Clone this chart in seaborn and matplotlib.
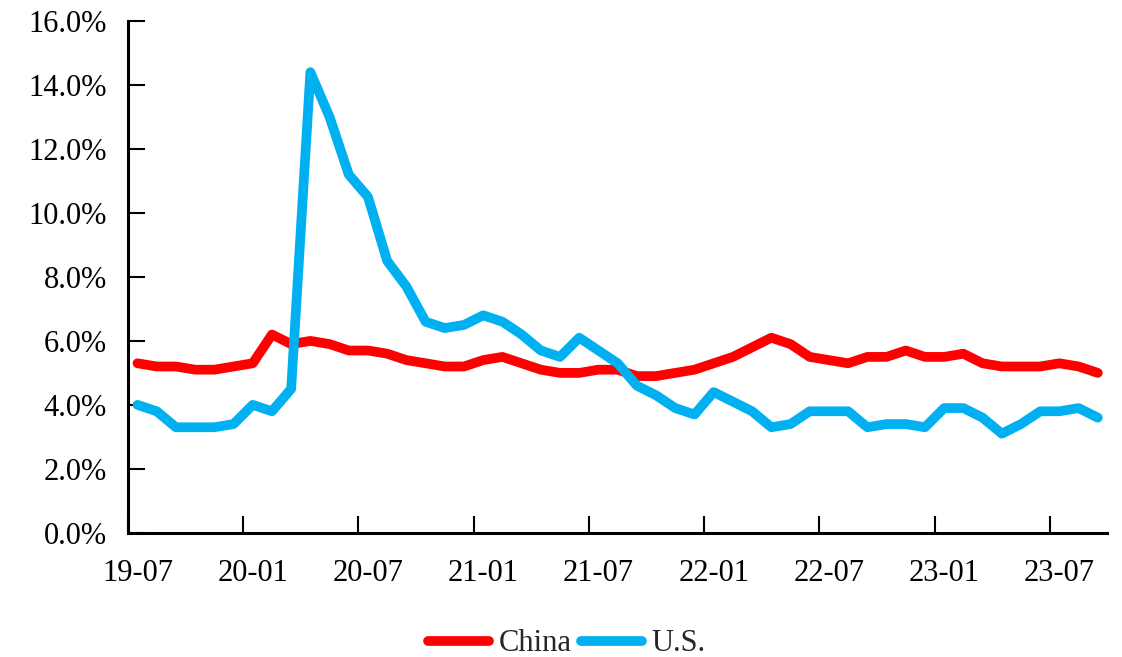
import numpy as np
import pandas as pd
import matplotlib
matplotlib.use("Agg")
import matplotlib.pyplot as plt
from matplotlib.ticker import FixedLocator, FuncFormatter, NullFormatter
import seaborn as sns

# Monthly unemployment rate, 2019-07 .. 2023-09
months = pd.period_range("2019-07", "2023-09", freq="M").strftime("%y-%m").tolist()

china = [5.3, 5.2, 5.2, 5.1, 5.1, 5.2,
         5.3, 6.2, 5.9, 6.0, 5.9, 5.7, 5.7, 5.6, 5.4, 5.3, 5.2, 5.2,
         5.4, 5.5, 5.3, 5.1, 5.0, 5.0, 5.1, 5.1, 4.9, 4.9, 5.0, 5.1,
         5.3, 5.5, 5.8, 6.1, 5.9, 5.5, 5.4, 5.3, 5.5, 5.5, 5.7, 5.5,
         5.5, 5.6, 5.3, 5.2, 5.2, 5.2, 5.3, 5.2, 5.0]

us = [4.0, 3.8, 3.3, 3.3, 3.3, 3.4,
      4.0, 3.8, 4.5, 14.4, 13.0, 11.2, 10.5, 8.5, 7.7, 6.6, 6.4, 6.5,
      6.8, 6.6, 6.2, 5.7, 5.5, 6.1, 5.7, 5.3, 4.6, 4.3, 3.9, 3.7,
      4.4, 4.1, 3.8, 3.3, 3.4, 3.8, 3.8, 3.8, 3.3, 3.4, 3.4, 3.3,
      3.9, 3.9, 3.6, 3.1, 3.4, 3.8, 3.8, 3.9, 3.6]

series_names = ["China", "U.S."]
series_colors = ["#FF0000", "#00B0F0"]

n = len(months)
df = pd.DataFrame({
    "idx": np.tile(np.arange(n), 2),
    "month": months * 2,
    "rate": np.array(china + us) / 100.0,
    "series": np.repeat(series_names, n),
})

sns.set_style("ticks")
plt.rcParams["font.family"] = ["Liberation Serif", "DejaVu Serif"]

fig = plt.figure(figsize=(11.22, 6.57), dpi=100)
ax = fig.add_axes([0.114, 0.189, 0.873, 0.779])

sns.lineplot(data=df, x="idx", y="rate", hue="series", hue_order=series_names,
             palette=dict(zip(series_names, series_colors)), linewidth=7,
             ax=ax, legend=False, solid_capstyle="round", solid_joinstyle="round")

ax.set_xlim(-0.5, n - 0.5)
ax.set_ylim(0, 0.16)

# tick marks between categories every 6 months, labels on the category itself
label_pos = np.arange(0, n, 6)
ax.xaxis.set_major_locator(FixedLocator(label_pos - 0.5))
ax.xaxis.set_major_formatter(NullFormatter())
ax.xaxis.set_minor_locator(FixedLocator(label_pos))
ax.xaxis.set_minor_formatter(FuncFormatter(lambda v, p: months[int(round(v))]))
ax.tick_params(axis="x", which="major", direction="in", length=12, width=1.5,
               color="black")
ax.tick_params(axis="x", which="minor", length=0, pad=18.5, labelsize=22,
               labelcolor="black")

ax.set_yticks(np.arange(0, 0.161, 0.02))
ax.yaxis.set_major_formatter(FuncFormatter(lambda v, p: f"{v * 100:.1f}%"))
ax.tick_params(axis="y", direction="in", length=12, width=1.5, pad=15,
               labelsize=22, color="black", labelcolor="black")

for side in ["top", "right"]:
    ax.spines[side].set_visible(False)
for side in ["left", "bottom"]:
    ax.spines[side].set_linewidth(2.2)
    ax.spines[side].set_color("black")

ax.set_xlabel("")
ax.set_ylabel("")

handles = [plt.Line2D([], [], color=c, linewidth=7, solid_capstyle="round")
           for c in series_colors]
fig.legend(handles, series_names, loc="center", bbox_to_anchor=(0.505, 0.02),
           ncol=2, frameon=False, fontsize=22, handlelength=2.0,
           handletextpad=0.3, columnspacing=0.3, borderpad=0.0)

fig.savefig("out.png", dpi=100)
